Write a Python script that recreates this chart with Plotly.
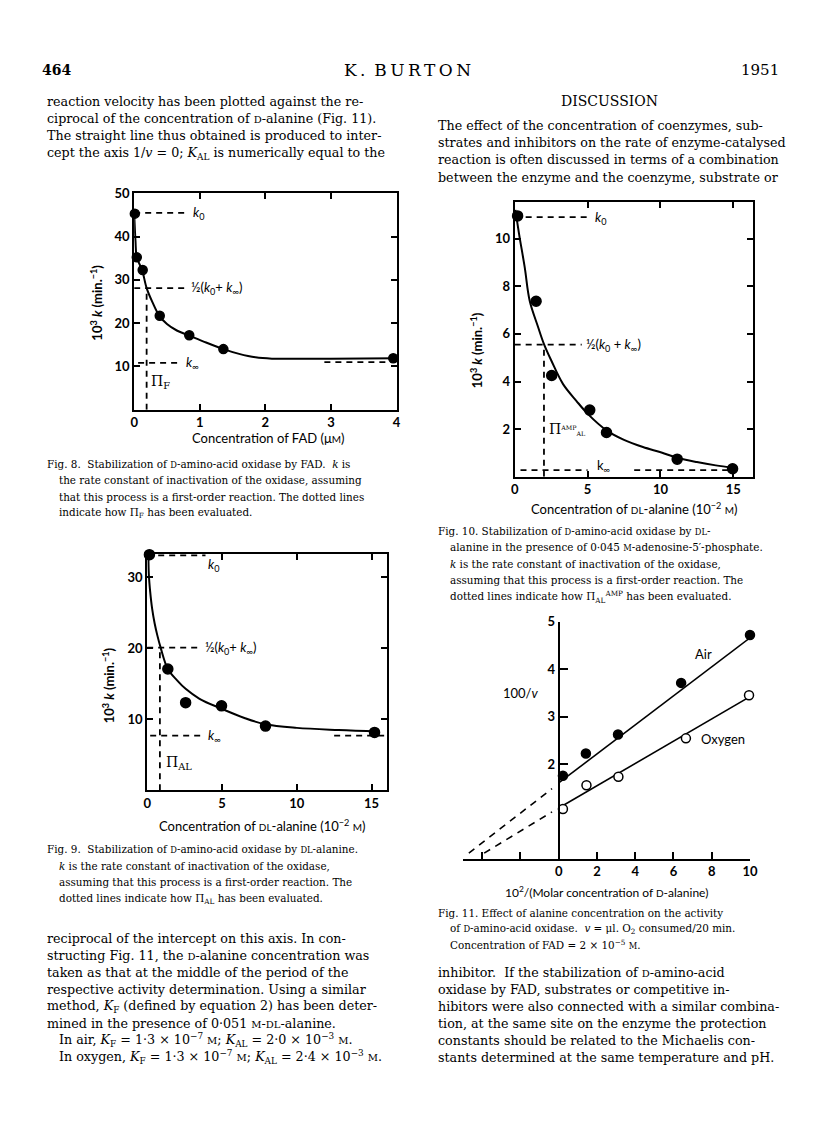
import plotly.graph_objects as go

W, H = 816, 1145

# ---------------- data ----------------
# Fig. 8  (FAD)
f8_x = [0.01, 0.04, 0.13, 0.39, 0.84, 1.36, 3.95]
f8_y = [45.3, 35.2, 32.3, 21.7, 17.2, 14.0, 11.9]
f8_cx = [0.0, 0.02, 0.04, 0.12, 0.19, 0.28, 0.38, 0.5, 0.65, 0.84, 1.05, 1.36, 1.6, 1.85, 2.1, 2.5, 3.0, 4.0]
f8_cy = [45.5, 39.0, 35.2, 32.3, 28.1, 24.8, 21.8, 19.8, 18.3, 17.1, 15.8, 14.0, 12.9, 12.1, 11.8, 11.8, 11.8, 11.9]
f8_xticks = [0, 1, 2, 3, 4]
f8_yticks = [10, 20, 30, 40, 50]

# Fig. 9  (DL-alanine)
f9_x = [0.15, 1.38, 2.57, 4.97, 7.91, 15.2]
f9_y = [33.2, 17.1, 12.35, 11.9, 9.05, 8.16]
f9_cx = [0.08, 0.11, 0.2, 0.33, 0.5, 0.67, 0.9, 1.38, 2.0, 2.57, 3.5, 4.97, 6.5, 7.91, 10, 12.8, 15.5]
f9_cy = [33.3, 30.4, 28.0, 25.6, 23.5, 21.9, 20.1, 17.1, 15.5, 14.3, 12.9, 11.5, 10.2, 9.3, 8.8, 8.5, 8.3]
f9_xticks = [0, 5, 10, 15]
f9_yticks = [10, 20, 30]

# Fig. 10 (DL-alanine + AMP)
f10_x = [0.2, 1.47, 2.54, 5.15, 6.3, 11.15, 14.95]
f10_y = [10.95, 7.37, 4.25, 2.8, 1.86, 0.74, 0.34]
f10_cx = [0.05, 0.3, 0.69, 1.03, 1.6, 2.01, 2.52, 3.32, 4.23, 5.03, 6.3, 7.5, 8.8, 10.07, 11.15, 12.5, 13.8, 15.0]
f10_cy = [11.2, 10.2, 8.79, 7.39, 6.3, 5.57, 4.87, 3.89, 3.19, 2.63, 1.95, 1.55, 1.25, 1.02, 0.8, 0.62, 0.48, 0.38]
f10_xticks = [0, 5, 10, 15]
f10_yticks = [2, 4, 6, 8, 10]

# Fig. 11 (Lineweaver-Burk)
air_x = [0.22, 1.42, 3.1, 6.4, 10.0]
air_y = [1.75, 2.22, 2.62, 3.71, 4.72]
oxy_x = [0.22, 1.45, 3.12, 6.65, 9.95]
oxy_y = [1.05, 1.55, 1.73, 2.54, 3.45]
air_line_x, air_line_y = [0, 10], [1.6, 4.66]
air_dash_x, air_dash_y = [-4.7, -0.35], [0.12, 1.48]
oxy_line_x, oxy_line_y = [0, 10], [1.07, 3.42]
oxy_dash_x, oxy_dash_y = [-3.9, -0.35], [0.12, 0.99]
f11_xticks = [-4, -2, 0, 2, 4, 6, 8, 10]
f11_xlabels = ["", "", "0", "2", "4", "6", "8", "10"]
f11_yticks = [2, 3, 4, 5]

# ---------------- helpers ----------------
SANS = "Lato"
SERIF = "DejaVu Serif"

# page positions below are measured on the reference picture; this maps them to page pixels
OX, SX = 5.0, 0.984
OY, SY = 8.0, 0.9913


def PX(x):
    return ((x - OX) / SX) / W


def PY(y):
    return 1 - ((y - OY) / SY) / H


def sc(s, size):
    return f"<span style='font-size:{size}px'>{s}</span>"


fig = go.Figure()
ann = []


def text(x, y, t, size=12, anchor="left", family=SERIF, color="black", weight="normal"):
    ann.append(dict(x=PX(x), y=PY(y), xref="paper", yref="paper", text=t, showarrow=False,
                    xanchor=anchor, yanchor="middle",
                    font=dict(family=family, size=size, color=color, weight=weight)))


def dtext(xr, yr, x, y, t, size=13, anchor="left", family=SANS):
    ann.append(dict(x=x, y=y, xref=xr, yref=yr, text=t, showarrow=False,
                    xanchor=anchor, yanchor="middle", font=dict(family=family, size=size, color="black")))


def vtitle(x, y, t):
    ann.append(dict(x=PX(x), y=PY(y), xref="paper", yref="paper", text=t, showarrow=False,
                    textangle=-90, xanchor="center", yanchor="middle",
                    font=dict(family=SANS, size=13, color="black", weight="bold")))


def line(xa, ya, xs, ys, dash="solid", width=1.8, shape="linear"):
    fig.add_trace(go.Scatter(x=xs, y=ys, mode="lines", xaxis=xa, yaxis=ya,
                             line=dict(color="black", width=width, dash=dash, shape=shape),
                             hoverinfo="skip", showlegend=False, cliponaxis=False))


def dots(xa, ya, xs, ys, open_=False, size=9):
    fig.add_trace(go.Scatter(x=xs, y=ys, mode="markers", xaxis=xa, yaxis=ya,
                             marker=dict(size=size, color="white" if open_ else "black",
                                         line=dict(color="black", width=1.5)),
                             hoverinfo="skip", showlegend=False, cliponaxis=False))


TF = dict(family=SANS, size=13, color="black", weight="bold")


def box_axes(xdom, ydom, xr, yr, xt, yt, anchor_x, anchor_y):
    xa = dict(domain=xdom, range=xr, tickvals=xt, ticks="inside", ticklen=6, tickwidth=1.5,
              showline=True, linewidth=2, linecolor="black", mirror="allticks", showgrid=False,
              zeroline=False, tickfont=TF, anchor=anchor_y, tickcolor="black")
    ya = dict(domain=ydom, range=yr, tickvals=yt, ticks="inside", ticklen=6, tickwidth=1.5,
              showline=True, linewidth=2, linecolor="black", mirror="allticks", showgrid=False,
              zeroline=False, tickfont=TF, anchor=anchor_x, tickcolor="black")
    return xa, ya


DASH = "6px,5px"
TS = "\u2009"  # thin space for letter spacing

# ---------------- Fig. 8 ----------------
xa1, ya1 = box_axes([PX(135), PX(397)], [PY(409), PY(193)], [0, 4], [0, 50], f8_xticks, f8_yticks, "x", "y")
line("x", "y", [0, 0.8], [45.5, 45.5], DASH)
line("x", "y", [0, 0.78], [28.1, 28.1], DASH)
line("x", "y", [0.06, 0.72], [10.8, 10.8], DASH)
line("x", "y", [2.9, 4.0], [11.0, 11.0], DASH)
line("x", "y", [0.19, 0.19], [0, 28.1], DASH)
line("x", "y", f8_cx, f8_cy, shape="spline", width=2)
dots("x", "y", f8_x, f8_y)
dtext("x", "y", 0.86, 45.5, "<i>k</i><sub>0</sub>")
dtext("x", "y", 0.83, 28.1, "½(<i>k</i><sub>0</sub>+ <i>k</i><sub>∞</sub>)")
dtext("x", "y", 0.76, 10.8, "<i>k</i><sub>∞</sub>")
dtext("x", "y", 0.22, 6.3, "Π<sub>F</sub>", family=SERIF, size=14)
vtitle(97, 302, "10<sup>3</sup> <i>k</i> (min.<sup>−1</sup>)")
text(269, 437, "Concentration of FAD (μ" + sc("M", 10) + ")", 13, "center", SANS)

# ---------------- Fig. 10 ----------------
xa2, ya2 = box_axes([PX(515), PX(753)], [PY(476), PY(202)], [0, 16.35], [0, 11.52], f10_xticks, f10_yticks, "x2", "y2")
line("x2", "y2", [0, 5.0], [10.9, 10.9], DASH)
line("x2", "y2", [0, 4.6], [5.55, 5.55], DASH)
line("x2", "y2", [0.4, 5.0], [0.28, 0.28], DASH)
line("x2", "y2", [8.2, 14.9], [0.28, 0.28], DASH)
line("x2", "y2", [2.01, 2.01], [0, 5.55], DASH)
line("x2", "y2", f10_cx, f10_cy, shape="spline", width=2)
dots("x2", "y2", f10_x, f10_y, size=10)
dtext("x2", "y2", 5.35, 10.85, "<i>k</i><sub>0</sub>")
dtext("x2", "y2", 4.75, 5.55, "½(<i>k</i><sub>0</sub> + <i>k</i><sub>∞</sub>)")
dtext("x2", "y2", 5.5, 0.45, "k<sub>∞</sub>")
dtext("x2", "y2", 2.2, 2.0, "Π<span style='font-size:9px'><sup>AMP</sup></span><span style='font-size:9px'><sub>AL</sub></span>", family=SERIF, size=14)
vtitle(477, 350, "10<sup>3</sup> <i>k</i> (min.<sup>−1</sup>)")
text(634, 508, "Concentration of " + sc("DL", 10) + "-alanine (10<sup>−2</sup> " + sc("M", 10) + ")", 13, "center", SANS)

# ---------------- Fig. 9 ----------------
xa3, ya3 = box_axes([PX(148), PX(387)], [PY(789), PY(553)], [0, 16], [0, 33.3], f9_xticks, f9_yticks, "x3", "y3")
line("x3", "y3", [0, 3.9], [33.1, 33.1], DASH)
line("x3", "y3", [0, 3.6], [20.1, 20.1], DASH)
line("x3", "y3", [0.2, 3.6], [7.7, 7.7], DASH)
line("x3", "y3", [12.5, 16], [7.7, 7.7], DASH)
line("x3", "y3", [0.85, 0.85], [0, 20.1], DASH)
line("x3", "y3", f9_cx, f9_cy, shape="spline", width=2)
dots("x3", "y3", f9_x, f9_y, size=10)
dtext("x3", "y3", 3.95, 31.7, "<i>k</i><sub>0</sub>")
dtext("x3", "y3", 3.75, 20.1, "½(<i>k</i><sub>0</sub>+ <i>k</i><sub>∞</sub>)")
dtext("x3", "y3", 3.95, 7.7, "<i>k</i><sub>∞</sub>")
dtext("x3", "y3", 1.1, 3.9, "Π<sub>AL</sub>", family=SERIF, size=14)
vtitle(109, 684, "10<sup>3</sup> <i>k</i> (min.<sup>−1</sup>)")
text(263, 824, "Concentration of " + sc("DL", 10) + "-alanine (10<sup>−2</sup> " + sc("M", 10) + ")", 13, "center", SANS)

# ---------------- Fig. 11 ----------------
xa4 = dict(domain=[PX(463.5), PX(750)], range=[-5, 10], tickvals=f11_xticks, ticktext=f11_xlabels,
           ticks="inside", ticklen=7, tickwidth=1.5, tickcolor="black", showline=True, linewidth=2,
           linecolor="black", showgrid=False, zeroline=False, tickfont=TF, anchor="y4")
ya4 = dict(domain=[PY(857.3), PY(620.7)], range=[0, 5], tickvals=f11_yticks, ticks="inside", ticklen=8,
           tickwidth=1.5, tickcolor="black", showline=True, linewidth=2, linecolor="black", showgrid=False,
           zeroline=False, tickfont=TF, anchor="free", position=PX(559))
line("x4", "y4", air_line_x, air_line_y, width=1.6)
line("x4", "y4", oxy_line_x, oxy_line_y, width=1.6)
line("x4", "y4", air_dash_x, air_dash_y, "7px,6px", width=1.6)
line("x4", "y4", oxy_dash_x, oxy_dash_y, "7px,6px", width=1.6)
dots("x4", "y4", air_x, air_y, size=9)
dots("x4", "y4", oxy_x, oxy_y, open_=True, size=9)
dtext("x4", "y4", 7.0, 4.33, "Air", size=13)
dtext("x4", "y4", 7.35, 2.53, "Oxygen", size=13)
text(521, 692, "100/<i>v</i>", 13, "center", SANS)
text(607, 890, "10<sup>2</sup>/(Molar concentration of " + sc("D", 10) + "-alanine)", 12, "center", SANS)

# ---------------- page text ----------------
D = sc("D", 10)
DL = sc("DL", 10)
M = sc("M", 10)
Dc = sc("D", 8.3)
DLc = sc("DL", 8.3)
Mc = sc("M", 8.3)
BODY = 12.7
CAP = 10.4

text(41, 70, "464", 14, weight="bold")
text(408, 70, TS.join("K.") + TS + " " + TS.join("BURTON"), 17, "center")
text(781, 70, "1951", 15, "right")

left_top = [
    "reaction velocity has been plotted against the re-",
    "ciprocal of the concentration of " + D + "-alanine (Fig. 11).",
    "The straight line thus obtained is produced to inter-",
    "cept the axis 1/<i>v</i> = 0; <i>K</i><sub>AL</sub> is numerically equal to the",
]
for i, s in enumerate(left_top):
    text(46, 101 + i * 17.3, s, BODY)

text(610, 101, "DISCUSSION", 14, "center")
right_top = [
    "The effect of the concentration of coenzymes, sub-",
    "strates and inhibitors on the rate of enzyme-catalysed",
    "reaction is often discussed in terms of a combination",
    "between the enzyme and the coenzyme, substrate or",
]
for i, s in enumerate(right_top):
    text(436, 125 + i * 17.3, s, BODY)

cap8 = [
    "Fig. 8.  Stabilization of " + Dc + "-amino-acid oxidase by FAD.  <i>k</i> is",
    "the rate constant of inactivation of the oxidase, assuming",
    "that this process is a first-order reaction. The dotted lines",
    "indicate how Π<sub>F</sub> has been evaluated.",
]
for i, s in enumerate(cap8):
    text(46 if i == 0 else 58, 463 + i * 16.4, s, CAP)

cap9 = [
    "Fig. 9.  Stabilization of " + Dc + "-amino-acid oxidase by " + DLc + "-alanine.",
    "<i>k</i> is the rate constant of inactivation of the oxidase,",
    "assuming that this process is a first-order reaction. The",
    "dotted lines indicate how Π<sub>AL</sub> has been evaluated.",
]
for i, s in enumerate(cap9):
    text(46 if i == 0 else 58, 848 + i * 16.4, s, CAP)

cap10 = [
    "Fig. 10. Stabilization of " + Dc + "-amino-acid oxidase by " + DLc + "-",
    "alanine in the presence of 0·045 " + Mc + "-adenosine-5′-phosphate.",
    "<i>k</i> is the rate constant of inactivation of the oxidase,",
    "assuming that this process is a first-order reaction. The",
    "dotted lines indicate how Π<sub>AL</sub><sup>AMP</sup> has been evaluated.",
]
for i, s in enumerate(cap10):
    text(436 if i == 0 else 448, 530 + i * 16.4, s, CAP)

cap11 = [
    "Fig. 11. Effect of alanine concentration on the activity",
    "of " + Dc + "-amino-acid oxidase.  <i>v</i> = μl. O<sub>2</sub> consumed/20 min.",
    "Concentration of FAD = 2 × 10<sup>−5</sup> " + Mc + ".",
]
for i, s in enumerate(cap11):
    text(436 if i == 0 else 448, 911 + i * 16.0, s, CAP)

left_bot = [
    "reciprocal of the intercept on this axis. In con-",
    "structing Fig. 11, the " + D + "-alanine concentration was",
    "taken as that at the middle of the period of the",
    "respective activity determination. Using a similar",
    "method, <i>K</i><sub>F</sub> (defined by equation 2) has been deter-",
    "mined in the presence of 0·051 " + M + "-" + DL + "-alanine.",
    "In air, <i>K</i><sub>F</sub> = 1·3 × 10<sup>−7</sup> " + M + "; <i>K</i><sub>AL</sub> = 2·0 × 10<sup>−3</sup> " + M + ".",
    "In oxygen, <i>K</i><sub>F</sub> = 1·3 × 10<sup>−7</sup> " + M + "; <i>K</i><sub>AL</sub> = 2·4 × 10<sup>−3</sup> " + M + ".",
]
for i, s in enumerate(left_bot):
    text(58 if i >= 6 else 46, 937 + i * 16.9, s, BODY)

right_bot = [
    "inhibitor.  If the stabilization of " + D + "-amino-acid",
    "oxidase by FAD, substrates or competitive in-",
    "hibitors were also connected with a similar combina-",
    "tion, at the same site on the enzyme the protection",
    "constants should be related to the Michaelis con-",
    "stants determined at the same temperature and pH.",
]
for i, s in enumerate(right_bot):
    text(436, 970.8 + i * 16.9, s, BODY)

fig.update_layout(
    width=W, height=H, margin=dict(l=0, r=0, t=0, b=0),
    paper_bgcolor="white", plot_bgcolor="white", showlegend=False,
    xaxis=xa1, yaxis=ya1, xaxis2=xa2, yaxis2=ya2, xaxis3=xa3, yaxis3=ya3, xaxis4=xa4, yaxis4=ya4,
    annotations=ann,
)

post = (
    "document.documentElement.style.margin='0';document.body.style.margin='0';"
    "var d=document.getElementById('{plot_id}');"
    "if(d){d.style.position='absolute';d.style.left='0px';d.style.top='0px';"
    "if(d.parentElement){d.parentElement.style.margin='0';}}"
)
fig.write_html("out.html", config={"displayModeBar": False}, post_script=post)
